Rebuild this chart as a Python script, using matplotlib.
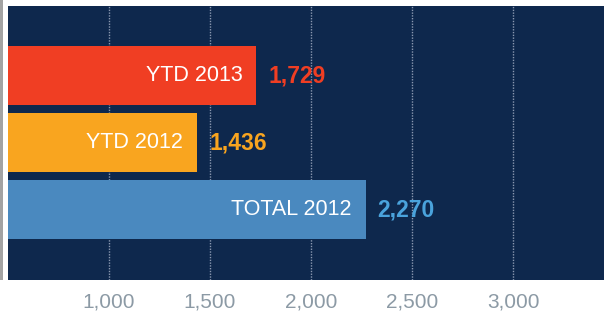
import matplotlib
matplotlib.use("Agg")
import matplotlib.pyplot as plt
from matplotlib.patches import Rectangle

# data
labels = ["YTD 2013", "YTD 2012", "TOTAL 2012"]
values = [1729, 1436, 2270]
bar_colors = ["#f03e23", "#f9a51f", "#4a89bf"]
value_colors = ["#f03e23", "#f9a51f", "#4aa3dc"]
ticks = [1000, 1500, 2000, 2500, 3000]

plt.rcParams["font.family"] = ["Liberation Sans", "DejaVu Sans"]

W, H = 604, 312
fig = plt.figure(figsize=(W / 100, H / 100), dpi=100)
fig.patch.set_facecolor("white")

# grey strip at the far left
fig.patches.append(Rectangle((0, 32 / H), 3 / W, 1 - 32 / H,
                             transform=fig.transFigure, facecolor="#a3a3a3",
                             edgecolor="none"))

ax = fig.add_axes([8 / W, 32 / H, 1 - 8 / W, 274 / H])
ax.set_facecolor("#0e284d")

pos = list(range(len(values)))
ax.barh(pos, values, height=0.88, color=bar_colors, zorder=2)

for p, v, lab, vc in zip(pos, values, labels, value_colors):
    ax.annotate(lab, (v, p), xytext=(-14, 0), textcoords="offset pixels",
                ha="right", va="center", color="white", fontsize=15.5, zorder=3)
    ax.annotate(f"{v:,}", (v, p), xytext=(12, 0), textcoords="offset pixels",
                ha="left", va="center", color=vc, fontsize=16.5,
                fontweight="bold", zorder=3)

ax.set_xlim(500, 3450)
ax.set_ylim(3.05, -1.04)
ax.set_xticks(ticks)
ax.set_xticklabels([f"{t:,}" for t in ticks])
ax.set_yticks([])
ax.tick_params(axis="x", length=0, pad=9, labelsize=15, labelcolor="#8c9aa5")
ax.grid(axis="x", color="#8a98b0", linestyle=(0, (1, 1)), linewidth=1, zorder=1)
for s in ax.spines.values():
    s.set_visible(False)

fig.savefig("out.png", dpi=100)
